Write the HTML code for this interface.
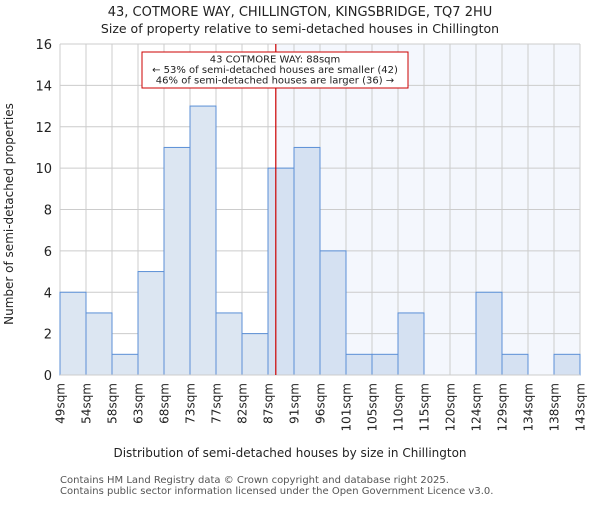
<!DOCTYPE html>
<html><head><meta charset="utf-8"><style>
body{margin:0;background:#fff;font-family:"Liberation Sans","DejaVu Sans",sans-serif}
</style></head><body>
<svg id="c" width="600" height="500" font-family="DejaVu Sans, Liberation Sans, sans-serif">
<text x="300" y="16" text-anchor="middle" font-size="13" fill="#222">43, COTMORE WAY, CHILLINGTON, KINGSBRIDGE, TQ7 2HU</text>
<text x="300" y="33" text-anchor="middle" font-size="12.5" fill="#222">Size of property relative to semi-detached houses in Chillington</text>
<g id="plot"></g>
<text x="290" y="457" text-anchor="middle" font-size="12" fill="#222">Distribution of semi-detached houses by size in Chillington</text>
<text transform="translate(13,214) rotate(-90)" text-anchor="middle" font-size="12" fill="#222">Number of semi-detached properties</text>
<text x="60" y="483" font-size="10" fill="#555">Contains HM Land Registry data © Crown copyright and database right 2025.</text>
<text x="60" y="494" font-size="10" fill="#555">Contains public sector information licensed under the Open Government Licence v3.0.</text>
</svg>
<script>
const labels=["49sqm","54sqm","58sqm","63sqm","68sqm","73sqm","77sqm","82sqm","87sqm","91sqm","96sqm","101sqm","105sqm","110sqm","115sqm","120sqm","124sqm","129sqm","134sqm","138sqm","143sqm"];
const counts=[4,3,1,5,11,13,3,2,10,11,6,1,1,3,0,0,4,1,0,1];
const yTicks=[0,2,4,6,8,10,12,14,16];
const markerBinPos=[8.3];
const NS="http://www.w3.org/2000/svg";
const L=60,R=580,T=44,B=375,yMax=16;
const bw=(R-L)/counts.length;
const x=i=>L+i*bw, y=v=>B-(v/yMax)*(B-T);
const g=document.getElementById('plot');
function mk(t,a){const e=document.createElementNS(NS,t);for(const k in a)e.setAttribute(k,a[k]);g.appendChild(e);return e;}
const mx=x(markerBinPos[0]);
let e=mk('rect',{x:mx,y:T,width:R-mx,height:B-T,fill:'#f4f7fd'});


yTicks.forEach(v=>{
 let l=mk('line',{x1:L,x2:R,y1:y(v),y2:y(v),stroke:'#ccc','stroke-width':1});
 
 
 let t=mk('text',{x:L-8,y:y(v)+5,'text-anchor':'end','font-size':13,fill:'#222'});
 t.textContent=v;
 
 
});
labels.forEach((s,i)=>{
 let l=mk('line',{x1:x(i),x2:x(i),y1:T,y2:B,stroke:'#ccc','stroke-width':1});
 
 
});
counts.forEach((v,i)=>{
 if(v<=0)return;
 const hl=x(i)+bw/2>mx;
 let r=mk('rect',{x:x(i),y:y(v),width:bw,height:B-y(v),fill:hl?'#d5e1f2':'#dce6f2',stroke:'#5b8fd6','stroke-width':1});
 
 
});
labels.forEach((s,i)=>{
 let t=mk('text',{transform:`translate(${x(i)+4.5},${B+8}) rotate(-90)`,'text-anchor':'end','font-size':12,fill:'#222'});
 t.textContent=s;
 
 
});
let ax=mk('line',{x1:L,x2:R,y1:B,y2:B,stroke:'#ccc'});


let ml=mk('line',{x1:mx,x2:mx,y1:T,y2:B,stroke:'#cc0000','stroke-width':1.2});


let box=mk('rect',{x:142,y:52,width:266,height:36,fill:'#fff',stroke:'#cc0000','stroke-width':1});


["43 COTMORE WAY: 88sqm","← 53% of semi-detached houses are smaller (42)","46% of semi-detached houses are larger (36) →"].forEach((s,i)=>{
 let t=mk('text',{x:275,y:62.5+i*10.5,'text-anchor':'middle','font-size':10,fill:'#222'});
 t.textContent=s;
 
 
});
</script>
</body></html>
